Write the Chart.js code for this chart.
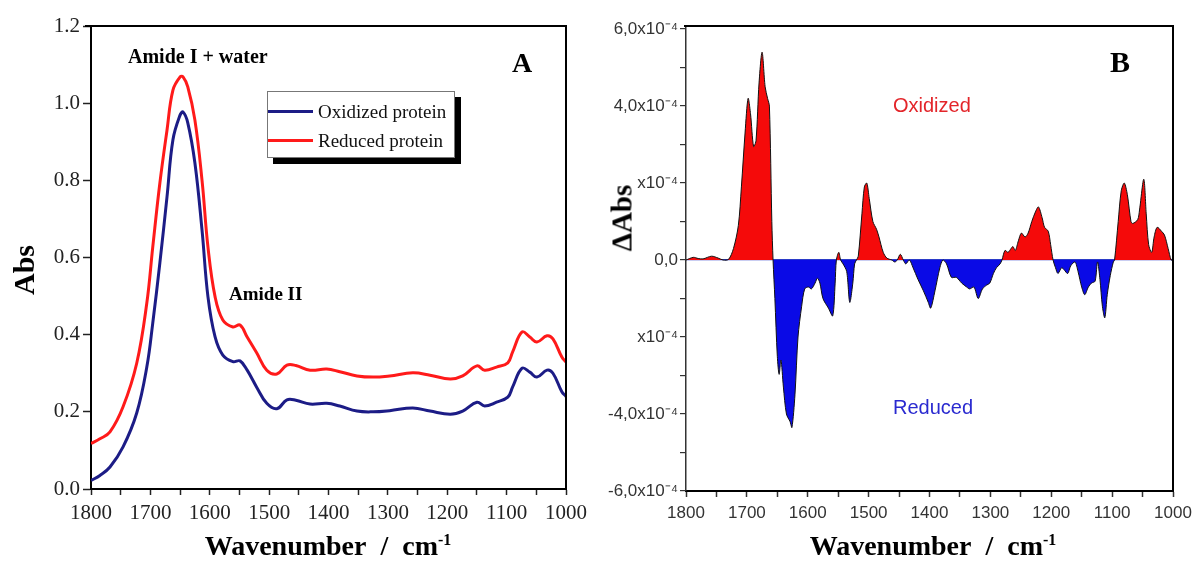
<!DOCTYPE html>
<html lang="en">
<head>
<meta charset="UTF-8">
<title>FTIR spectra – oxidized vs reduced protein</title>
<script src="https://cdn.jsdelivr.net/npm/chart.js"></script>
<style>
    body { margin: 0; background: #fff; }
    .page { position: relative; width: 1193px; height: 568px; overflow: hidden; }
    .panel { position: absolute; top: 0; height: 568px; }
    #panelA { left: 0; width: 596px; }
    #panelB { left: 596px; width: 597px; }
    .txt { position: absolute; white-space: nowrap; transform: translateY(-50%); line-height: 1; }
    .serif { font-family: "Liberation Serif", "Times New Roman", serif; }
    .sans { font-family: "Liberation Sans", Arial, sans-serif; }
    .bold { font-weight: bold; }
    .rot { transform: translate(-50%, -50%) rotate(-90deg); }
    .xtitle { transform: translate(-50%, -50%); font-size: 28px; }
    sup { font-size: 16px; vertical-align: 10px; line-height: 0; }
    .legend {
        position: absolute; left: 267px; top: 91px; width: 186px; height: 65px;
        background: #fff; border: 1px solid #777; box-shadow: 6px 6px 0 #000;
    }
    .legend .row { position: absolute; left: 0; height: 24px; }
    .legend .swatch { position: absolute; left: 0; top: 10px; width: 45px; height: 3px; }
    .legend .label { position: absolute; left: 50px; top: 0; font-size: 19px; line-height: 24px; color: #111; white-space: nowrap; }
</style>
</head>
<body>
<div class="page">
    <div class="panel" id="panelA"><canvas id="chartA"></canvas></div>
    <div class="panel" id="panelB"><canvas id="chartB"></canvas></div>

    <!-- panel A texts -->
    <div class="txt serif bold" style="left:128px; top:56px; font-size:20px;">Amide I + water</div>
    <div class="txt serif bold" style="left:229px; top:293px; font-size:19px;">Amide II</div>
    <div class="txt serif bold" style="left:512px; top:63px; font-size:28px;">A</div>
    <div class="txt serif bold rot" style="left:24px; top:270px; font-size:30px;">Abs</div>
    <div class="txt serif bold xtitle" style="left:328px; top:546px;">Wavenumber&nbsp; / &nbsp;cm<sup>-1</sup></div>
    <div class="legend serif">
        <div class="row" style="top:8px;"><div class="swatch" style="background:#1c1c86;"></div><div class="label">Oxidized protein</div></div>
        <div class="row" style="top:37px;"><div class="swatch" style="background:#ff1a1a;"></div><div class="label">Reduced protein</div></div>
    </div>

    <!-- panel B texts -->
    <div class="txt serif bold" style="left:1110px; top:62px; font-size:30px;">B</div>
    <div class="txt sans" style="left:893px; top:105px; font-size:20px; color:#e3252a;">Oxidized</div>
    <div class="txt sans" style="left:893px; top:407px; font-size:20px; color:#2a2ad0;">Reduced</div>
    <div class="txt serif bold rot" style="left:622px; top:218px; font-size:29px;">&Delta;Abs</div>
    <div class="txt serif bold xtitle" style="left:933px; top:546px;">Wavenumber&nbsp; / &nbsp;cm<sup>-1</sup></div>
</div>

<script>
    // ---- panel A : absorbance spectra ----
    const wavenumbersA = [1800, 1785, 1768, 1746, 1723, 1706, 1696, 1684, 1672, 1662, 1650, 1645, 1637, 1625, 1613, 1603,
        1591, 1578, 1561, 1549, 1537, 1521, 1504, 1487, 1470, 1455, 1431, 1403, 1381, 1352, 1325, 1297, 1258, 1229,
        1195, 1174, 1150, 1137, 1117, 1098, 1090, 1074, 1061, 1049, 1032, 1022, 1007, 1000];
    const oxidizedAbs = [0.022, 0.035, 0.057, 0.109, 0.197, 0.316, 0.430, 0.586, 0.757, 0.905, 0.969, 0.977, 0.949, 0.845, 0.671, 0.498,
        0.394, 0.347, 0.330, 0.332, 0.308, 0.264, 0.222, 0.208, 0.231, 0.230, 0.220, 0.222, 0.215, 0.202, 0.200, 0.203, 0.210, 0.202,
        0.194, 0.202, 0.225, 0.215, 0.225, 0.238, 0.264, 0.313, 0.303, 0.290, 0.308, 0.300, 0.252, 0.240];
    const reducedAbs = [0.118, 0.130, 0.148, 0.213, 0.326, 0.482, 0.627, 0.793, 0.930, 1.034, 1.068, 1.068, 1.042, 0.956, 0.800, 0.627,
        0.498, 0.438, 0.420, 0.425, 0.394, 0.353, 0.308, 0.298, 0.321, 0.320, 0.308, 0.311, 0.304, 0.293, 0.290, 0.293, 0.301, 0.295,
        0.285, 0.293, 0.319, 0.308, 0.316, 0.327, 0.355, 0.407, 0.394, 0.381, 0.397, 0.389, 0.342, 0.329];

    // ---- panel B : difference spectrum (values in units of 1e-4) ----
    const wavenumbersB = [1800, 1788, 1780, 1772, 1758, 1747, 1739, 1730, 1722, 1714, 1709, 1703, 1698, 1694, 1689, 1685,
        1680, 1675, 1670, 1666, 1663, 1659, 1657, 1654, 1650, 1647, 1644, 1640, 1635, 1629, 1626, 1621, 1616, 1610,
        1605, 1599, 1594, 1588, 1584, 1580, 1575, 1566, 1559, 1555, 1553, 1549, 1546, 1542, 1536, 1531, 1526, 1523,
        1520, 1517, 1511, 1507, 1503, 1499, 1493, 1487, 1483, 1476, 1470, 1462, 1457, 1453, 1448, 1443, 1439, 1433,
        1427, 1419, 1410, 1402, 1398, 1391, 1383, 1378, 1372, 1364, 1356, 1347, 1339, 1334, 1327, 1320, 1313, 1306,
        1301, 1295, 1290, 1284, 1281, 1276, 1271, 1266, 1263, 1259, 1254, 1249, 1243, 1238, 1232, 1226, 1221, 1215,
        1211, 1205, 1201, 1197, 1193, 1189, 1183, 1179, 1173, 1168, 1161, 1156, 1150, 1145, 1139, 1134, 1128, 1124,
        1120, 1116, 1112, 1108, 1103, 1098, 1096, 1090, 1085, 1080, 1075, 1069, 1066, 1058, 1055, 1048, 1044, 1040,
        1035, 1031, 1026, 1019, 1014, 1008, 1003, 1000];
    const deltaAbs = [0, 0.07, 0.04, 0.03, 0.1, 0.05, 0, 0.02, 0.3, 0.9, 1.9, 3.3, 4.2, 3.8, 2.95, 3.1,
        4.6, 5.4, 4.5, 4.2, 4.0, 1.0, 0, -1.0, -2.5, -2.97, -2.6, -3.3, -4.0, -4.2, -4.35, -3.5, -2.0, -1.2,
        -0.75, -0.7, -0.75, -0.6, -0.47, -0.6, -1.0, -1.25, -1.45, -0.6, 0, 0.2, 0, -0.1, -0.3, -1.1, -0.6, -0.1,
        0, 0.1, 1.2, 1.9, 2.0, 1.6, 1.0, 0.8, 0.6, 0.2, 0.05, 0, -0.05, 0, 0.15, 0, -0.1, 0,
        -0.2, -0.5, -0.8, -1.1, -1.25, -0.8, -0.2, 0, -0.1, -0.45, -0.45, -0.6, -0.7, -0.75, -0.7, -1.0, -0.75, -0.65,
        -0.6, -0.35, -0.2, -0.1, 0, 0.25, 0.2, 0.3, 0.35, 0.25, 0.5, 0.7, 0.6, 0.7, 1.0, 1.25, 1.38, 1.1,
        0.85, 0.75, 0.4, 0, -0.2, -0.35, -0.2, -0.25, -0.35, -0.15, -0.05, -0.3, -0.7, -0.9, -0.7, -0.6, -0.55, -0.05,
        -0.5, -1.2, -1.5, -0.9, -0.4, -0.05, 0, 1.0, 1.8, 2.0, 1.7, 1.0, 0.95, 1.05, 1.3, 2.1, 1.2, 0.4,
        0.2, 0.6, 0.85, 0.75, 0.65, 0.3, 0, 0];

    const yLabelsB = { 6: '6,0x10⁻⁴', 4: '4,0x10⁻⁴', 2: 'x10⁻⁴', 0: '0,0', '-2': 'x10⁻⁴', '-4': '-4,0x10⁻⁴', '-6': '-6,0x10⁻⁴' };

    const serifFont = '"Liberation Serif", "Times New Roman", serif';
    const sansFont = '"Liberation Sans", Arial, sans-serif';

    function toPoints(xs, ys) {
        return xs.map((x, i) => ({ x: x, y: ys[i] }));
    }

    // closes the box: top and right lines of the plot area
    const frame = {
        id: 'frame',
        afterDraw(chart, args, opts) {
            const a = chart.chartArea;
            const c = chart.ctx;
            c.save();
            c.strokeStyle = '#000';
            c.lineWidth = opts.width || 2;
            c.beginPath();
            c.moveTo(a.left - (opts.overhang || 0), a.top);
            c.lineTo(a.right, a.top);
            c.lineTo(a.right, a.bottom);
            c.stroke();
            c.restore();
        }
    };

    function xAxis(fontFamily, fontSize, color, height) {
        return {
            type: 'linear', min: 1000, max: 1800, reverse: true,
            afterFit: s => {
                s.height = height;
                // edge labels may hang over, layout padding handles the room
                s.paddingLeft = 0;
                s.paddingRight = 0;
            },
            border: { display: true, color: '#000', width: 2 },
            grid: { drawOnChartArea: false, drawTicks: true, tickLength: 6, tickColor: color, tickWidth: 1.5 },
            ticks: {
                stepSize: 50, autoSkip: false, maxRotation: 0, padding: 6,
                color: color, font: { family: fontFamily, size: fontSize },
                callback: v => (v % 100 === 0 ? String(v) : '')
            }
        };
    }

    new Chart(document.getElementById('chartA'), {
        type: 'line',
        data: {
            datasets: [
                { label: 'Oxidized protein', data: toPoints(wavenumbersA, oxidizedAbs), borderColor: '#1c1c86', borderWidth: 3, pointRadius: 0, tension: 0.4 },
                { label: 'Reduced protein', data: toPoints(wavenumbersA, reducedAbs), borderColor: '#ff1a1a', borderWidth: 3, pointRadius: 0, tension: 0.4 }
            ]
        },
        options: {
            responsive: true, maintainAspectRatio: false, animation: false,
            layout: { padding: { left: 0, top: 26, right: 30, bottom: 0 } },
            plugins: { legend: { display: false }, tooltip: { enabled: false }, frame: { width: 2, overhang: 6 } },
            scales: {
                x: xAxis(serifFont, 21, '#222', 79),
                y: {
                    min: 0, max: 1.2,
                    afterFit: s => { s.width = 91; },
                    border: { display: true, color: '#000', width: 2 },
                    grid: { drawOnChartArea: false, tickLength: 8, tickColor: '#222', tickWidth: 1.5 },
                    ticks: { stepSize: 0.2, padding: 3, color: '#222', font: { family: serifFont, size: 21 }, callback: v => v.toFixed(1) }
                }
            }
        },
        plugins: [frame]
    });

    new Chart(document.getElementById('chartB'), {
        type: 'line',
        data: {
            datasets: [{
                label: 'ΔAbs', data: toPoints(wavenumbersB, deltaAbs),
                borderColor: '#111', borderWidth: 1, pointRadius: 0, tension: 0.3,
                fill: { target: 'origin', above: '#f50a0a', below: '#0a0ae6' }
            }]
        },
        options: {
            responsive: true, maintainAspectRatio: false, animation: false,
            layout: { padding: { left: 0, top: 26, right: 20, bottom: 0 } },
            plugins: { legend: { display: false }, tooltip: { enabled: false }, frame: { width: 2, overhang: 2 } },
            scales: {
                x: xAxis(sansFont, 17, '#333', 77),
                y: {
                    min: -6, max: 6.08,
                    afterFit: s => { s.width = 90; },
                    border: { display: true, color: '#333', width: 1.5 },
                    grid: {
                        drawOnChartArea: true, tickLength: 6, tickColor: '#333', tickWidth: 1.2,
                        color: ctx => (ctx.tick && Math.round(ctx.tick.value) === 0 ? '#2b3bc8' : 'rgba(0,0,0,0)'),
                        lineWidth: 1.2
                    },
                    ticks: {
                        stepSize: 1, includeBounds: false, padding: 2, color: '#333',
                        font: { family: sansFont, size: 17 },
                        callback: v => {
                            const n = Math.round(v);
                            return yLabelsB[n] !== undefined ? yLabelsB[n] : '';
                        }
                    }
                }
            }
        },
        plugins: [frame]
    });
</script>
</body>
</html>
